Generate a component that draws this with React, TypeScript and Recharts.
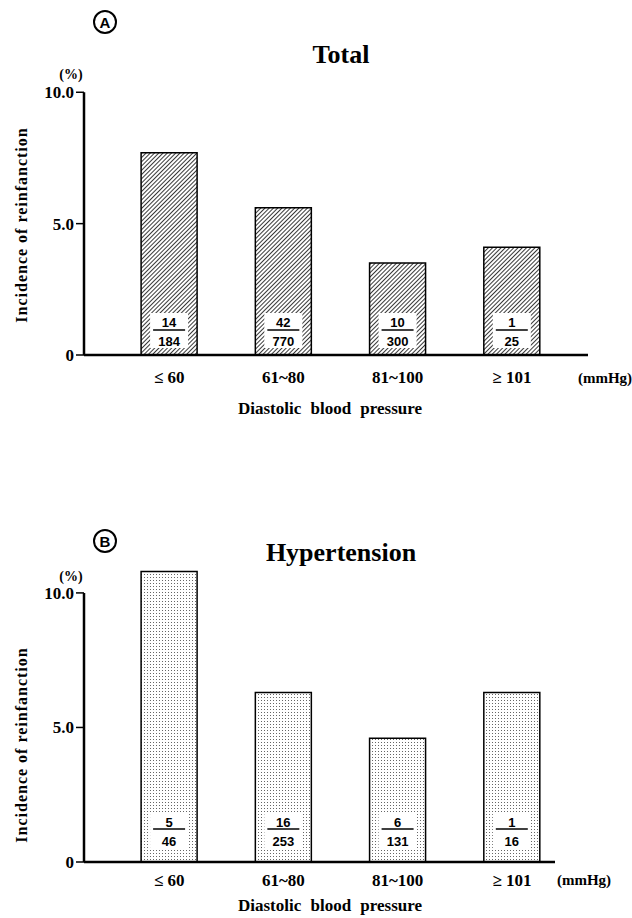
import { Bar, BarChart, LabelList, ReferenceLine, XAxis, YAxis } from "recharts";
import type { CSSProperties, ReactNode } from "react";

const categories = ["≤ 60", "61~80", "81~100", "≥ 101"];
const yTicks = [0, 5, 10];

// panel A: total
const totalValues = [7.7, 5.6, 3.5, 4.1];
const totalCases = [14, 42, 10, 1];
const totalPatients = [184, 770, 300, 25];

// panel B: hypertension
const hyperValues = [10.8, 6.3, 4.6, 6.3];
const hyperCases = [5, 16, 6, 1];
const hyperPatients = [46, 253, 131, 16];

const serif = "'Liberation Serif', 'Times New Roman', serif";
const sans = "'Liberation Sans', Arial, sans-serif";

function buildData(values: number[], cases: number[], patients: number[]) {
  return values.map((v, i) => ({
    pos: i + 1,
    value: v,
    frac: `${cases[i]}/${patients[i]}`,
  }));
}

type FracOffsets = { boxTop: number; boxBottom: number; num: number; line: number; den: number };

const makeFraction = (o: FracOffsets) => (props: any) => {
  const vb = props.viewBox ?? props;
  const cx = vb.x + vb.width / 2;
  const bottom = vb.y + vb.height;
  const [num, den] = String(props.value).split("/");
  return (
    <g>
      <rect x={cx - 19} y={bottom - o.boxTop} width={38} height={o.boxTop - o.boxBottom} fill="#fff" />
      <text x={cx} y={bottom - o.num} textAnchor="middle" dominantBaseline="central" fontFamily={sans} fontWeight={700} fontSize={13} fill="#000">
        {num}
      </text>
      <line x1={cx - 16} x2={cx + 16} y1={bottom - o.line} y2={bottom - o.line} stroke="#000" strokeWidth={1.5} />
      <text x={cx} y={bottom - o.den} textAnchor="middle" dominantBaseline="central" fontFamily={sans} fontWeight={700} fontSize={13} fill="#000">
        {den}
      </text>
    </g>
  );
};

function Txt({ x, y, children, style }: { x: number; y: number; children: ReactNode; style?: CSSProperties }) {
  return (
    <div
      style={{
        position: "absolute",
        left: x,
        top: y,
        transform: "translate(-50%, -50%)",
        whiteSpace: "nowrap",
        fontFamily: serif,
        fontWeight: 700,
        color: "#000",
        lineHeight: 1,
        ...style,
      }}
    >
      {children}
    </div>
  );
}

function Circled({ x, y, letter }: { x: number; y: number; letter: string }) {
  return (
    <div
      style={{
        position: "absolute",
        left: x - 12,
        top: y - 12,
        width: 20,
        height: 20,
        border: "2px solid #000",
        borderRadius: "50%",
        display: "flex",
        alignItems: "center",
        justifyContent: "center",
        fontFamily: sans,
        fontWeight: 700,
        fontSize: 15,
      }}
    >
      {letter}
    </div>
  );
}

type PanelProps = {
  top: number;
  height: number;
  marginTop: number;
  marginRight: number;
  marginBottom: number;
  xDomain: [number, number];
  tickMargin: number;
  data: ReturnType<typeof buildData>;
  pattern: "hatch" | "dots";
  frac: FracOffsets;
};

function Panel({ top, height, marginTop, marginRight, marginBottom, xDomain, tickMargin, data, pattern, frac }: PanelProps) {
  const pid = `${pattern}-${top}`;
  return (
    <div style={{ position: "absolute", left: 0, top }}>
      <BarChart
        width={632}
        height={height}
        data={data}
        margin={{ top: marginTop, right: marginRight, bottom: marginBottom, left: 0 }}
      >
        <defs>
          <pattern id={`hatch-${top}`} width="3" height="3" patternUnits="userSpaceOnUse" patternTransform="rotate(45)">
            <rect width="3" height="3" fill="#fff" />
            <line x1="1.5" y1="0" x2="1.5" y2="3" stroke="#222" strokeWidth="0.9" />
          </pattern>
          <pattern id={`dots-${top}`} width="3" height="3" patternUnits="userSpaceOnUse">
            <rect width="3" height="3" fill="#fff" />
            <rect x="0" y="0" width="1" height="1" fill="#666" />
          </pattern>
        </defs>
        <XAxis
          type="number"
          dataKey="pos"
          domain={xDomain}
          ticks={[1, 2, 3, 4]}
          interval={0}
          tickFormatter={(v) => categories[v - 1]}
          tickLine={false}
          axisLine={{ stroke: "#000", strokeWidth: 2.5 }}
          tickMargin={tickMargin}
          height={40}
          tick={{ fill: "#000", fontSize: 17, fontWeight: 700, fontFamily: serif }}
        />
        <YAxis
          type="number"
          domain={[0, 11]}
          ticks={yTicks}
          interval={0}
          tickFormatter={(v) => (v === 0 ? "0" : v.toFixed(1))}
          axisLine={false}
          tickLine={{ stroke: "#000", strokeWidth: 1.5 }}
          tickSize={8}
          tickMargin={2}
          width={84}
          tick={{ fill: "#000", fontSize: 17, fontWeight: 700, fontFamily: serif }}
        />
        <ReferenceLine
          segment={[
            { x: xDomain[0], y: 0 },
            { x: xDomain[0], y: 10 },
          ]}
          stroke="#000"
          strokeWidth={2.5}
          ifOverflow="visible"
        />
        <Bar
          dataKey="value"
          barSize={56}
          fill={`url(#${pid})`}
          stroke="#000"
          strokeWidth={1.5}
          isAnimationActive={false}
        >
          <LabelList dataKey="frac" content={makeFraction(frac)} />
        </Bar>
      </BarChart>
    </div>
  );
}

export default function App() {
  const totalData = buildData(totalValues, totalCases, totalPatients);
  const hyperData = buildData(hyperValues, hyperCases, hyperPatients);
  const yLabel: CSSProperties = { fontSize: 16, letterSpacing: 1, transform: "translate(-50%, -50%) rotate(-90deg)" };
  const xTitle: CSSProperties = { fontSize: 17, wordSpacing: 5 };

  return (
    <div style={{ position: "absolute", left: 0, top: 0, width: 632, height: 918, background: "#fff", overflow: "hidden" }}>
      {/* panel A */}
      <Circled x={105} y={22} letter="A" />
      <Txt x={341} y={55} style={{ fontSize: 26 }}>Total</Txt>
      <Txt x={71} y={75} style={{ fontSize: 14 }}>(%)</Txt>
      <Txt x={22} y={225} style={yLabel}>Incidence of reinfanction</Txt>
      <Panel
        top={0}
        height={420}
        marginTop={66}
        marginRight={44}
        marginBottom={25}
        xDomain={[0.254, 4.666]}
        tickMargin={10}
        data={totalData}
        pattern="hatch"
        frac={{ boxTop: 42, boxBottom: 7, num: 33, line: 25, den: 14 }}
      />
      <Txt x={605} y={378} style={{ fontSize: 15 }}>(mmHg)</Txt>
      <Txt x={330} y={408} style={xTitle}>Diastolic blood pressure</Txt>

      {/* panel B */}
      <Circled x={105} y={541} letter="B" />
      <Txt x={341} y={553} style={{ fontSize: 26 }}>Hypertension</Txt>
      <Txt x={71} y={577} style={{ fontSize: 14 }}>(%)</Txt>
      <Txt x={22} y={745} style={yLabel}>Incidence of reinfanction</Txt>
      <Panel
        top={460}
        height={458}
        marginTop={106}
        marginRight={77}
        marginBottom={16}
        xDomain={[0.254, 4.377]}
        tickMargin={6}
        data={hyperData}
        pattern="dots"
        frac={{ boxTop: 50, boxBottom: 14, num: 40, line: 33, den: 21 }}
      />
      <Txt x={584} y={880} style={{ fontSize: 15 }}>(mmHg)</Txt>
      <Txt x={330} y={905} style={xTitle}>Diastolic blood pressure</Txt>
    </div>
  );
}
